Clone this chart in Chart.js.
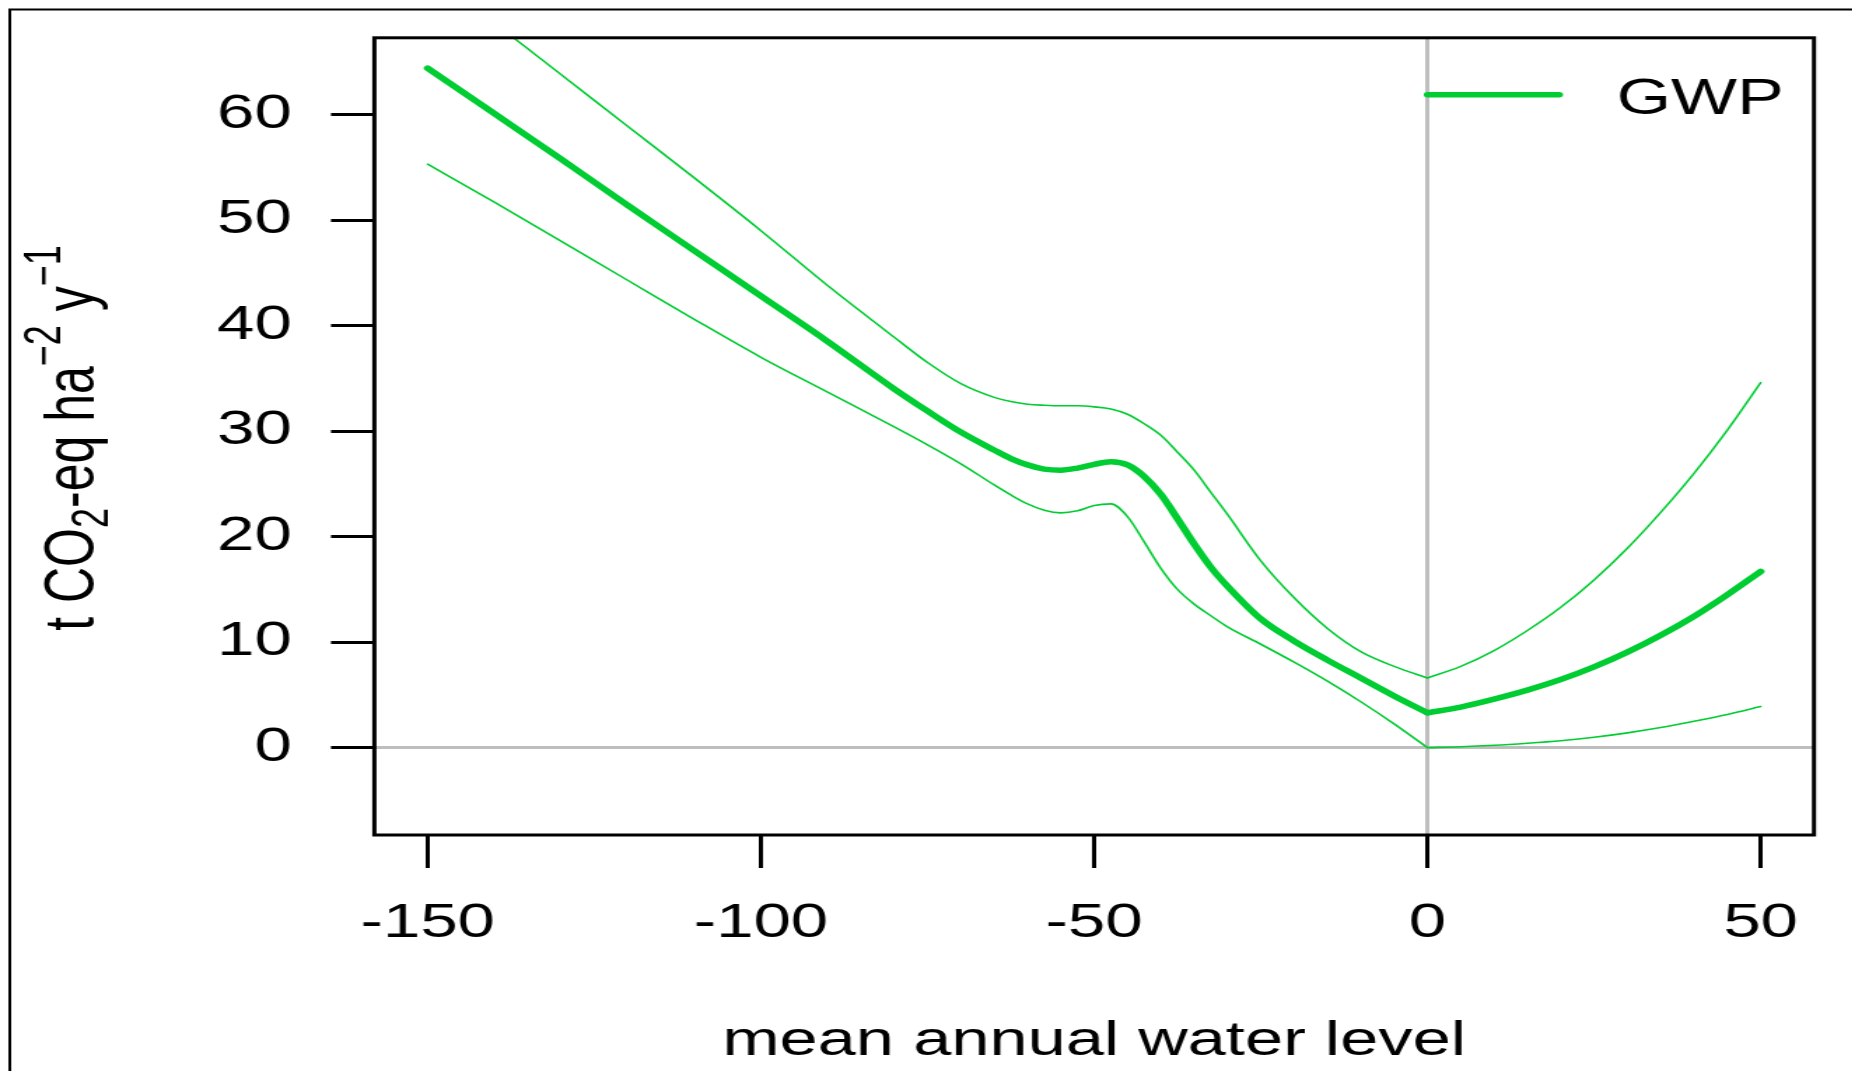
<!DOCTYPE html>
<html>
<head>
<meta charset="utf-8">
<title>GWP vs mean annual water level</title>
<script src="https://cdn.jsdelivr.net/npm/chart.js@4.4.1/dist/chart.umd.min.js"></script>
<style>
  html, body { margin: 0; padding: 0; background: #fff; overflow: hidden; }
  /* the reference figure is stretched sideways, so the chart is drawn
     narrower and scaled up in x */
  #wrap { width: 1323px; height: 1071px; transform: scaleX(1.4); transform-origin: 0 0; }
</style>
</head>
<body>
<div id="wrap"><canvas id="chart"></canvas></div>
<script>
// ── data ────────────────────────────────────────────────────────────────────
const waterLevel = [-150, -140, -130, -120, -110, -100, -90, -80, -75, -70,
  -65, -62.5, -60, -57.5, -55, -52.5, -50, -47.5, -45, -42.5,
  -40, -37.5, -35, -32.5, -30, -25, -20, -15, -10, -5,
  0, 5, 10, 15, 20, 25, 30, 35, 40, 45, 50];

const gwp = [64.4, 60.1, 55.8, 51.4, 47.1, 42.8, 38.5, 34.0, 31.9, 29.9,
  28.2, 27.4, 26.8, 26.4, 26.3, 26.5, 26.85, 27.1, 26.8, 25.7,
  24.0, 21.7, 19.3, 17.1, 15.3, 12.2, 10.1, 8.3, 6.6, 4.9,
  3.3, 3.85, 4.6, 5.45, 6.45, 7.65, 9.05, 10.65, 12.45, 14.5, 16.7];

const gwpUpper = [73.7, 68.7, 63.8, 58.9, 54.0, 49.0, 43.8, 38.9, 36.5, 34.5,
  33.2, 32.8, 32.55, 32.45, 32.4, 32.4, 32.3, 32.1, 31.6, 30.7,
  29.6, 28.0, 26.3, 24.2, 22.1, 17.7, 14.2, 11.3, 9.1, 7.7,
  6.6, 7.7, 9.2, 11.1, 13.3, 15.9, 18.9, 22.3, 26.0, 30.1, 34.6];

const gwpLower = [55.3, 51.7, 48.0, 44.3, 40.6, 37.0, 33.7, 30.4, 28.7, 26.9,
  24.9, 23.95, 23.1, 22.5, 22.25, 22.45, 22.95, 23.1, 21.9, 19.5,
  17.0, 15.0, 13.6, 12.5, 11.45, 9.8, 8.1, 6.3, 4.35, 2.25,
  0, 0.08, 0.22, 0.42, 0.66, 0.98, 1.4, 1.9, 2.5, 3.15, 3.9];

const xTicks = [-150, -100, -50, 0, 50];
const yTicks = [0, 10, 20, 30, 40, 50, 60];

const GREEN = '#00cd32';
const FONT = "'Liberation Sans', Arial, sans-serif";

// y title with sub/superscripts: [text, 0 normal | 1 sub | -1 sup]
const yTitleParts = [['t CO', 0], ['2', 1], ['-eq ha', 0], ['\u22122', -1], [' y', 0], ['\u22121', -1]];

// the fitted curve has a kink at 0, so each curve is split into two pieces
function piece(values, keep) {
  return waterLevel.map((x, i) => ({ x: x, y: values[i] })).filter(p => keep(p.x));
}

const curves = [
  { label: 'upper', values: gwpUpper, width: 1.6 },
  { label: 'lower', values: gwpLower, width: 1.6 },
  { label: 'GWP', values: gwp, width: 5.5 },
];

const datasets = [];
curves.forEach(c => {
  [x => x <= 0, x => x >= 0].forEach(keep => {
    datasets.push({
      label: c.label,
      data: piece(c.values, keep),
      borderColor: GREEN,
      borderWidth: c.width,
      borderCapStyle: 'round',
      borderJoinStyle: 'round',
      pointRadius: 0,
      cubicInterpolationMode: 'monotone',
      fill: false,
      clip: 0
    });
  });
});

// box round the plot region and the outer figure border
const framePlugin = {
  id: 'rFrame',
  afterDatasetsDraw(chart) {
    const { ctx, chartArea: a } = chart;
    ctx.save();
    ctx.strokeStyle = '#000';
    ctx.lineWidth = 3;
    ctx.strokeRect(a.left, a.top, a.right - a.left, a.bottom - a.top);
    ctx.lineWidth = 2;
    ctx.beginPath();
    ctx.moveTo(7, chart.height + 5);
    ctx.lineTo(7, 9.5);
    ctx.lineTo(chart.width + 5, 9.5);
    ctx.stroke();
    ctx.restore();
  }
};

// R style legend, top right inside the plot, no box
const legendPlugin = {
  id: 'rLegend',
  afterDatasetsDraw(chart) {
    const { ctx, chartArea: a } = chart;
    const ds = chart.data.datasets.find(d => d.label === 'GWP');
    const y = a.top + 57;
    ctx.save();
    ctx.strokeStyle = ds.borderColor;
    ctx.lineWidth = ds.borderWidth;
    ctx.lineCap = 'round';
    ctx.beginPath();
    ctx.moveTo(a.right - 276, y);
    ctx.lineTo(a.right - 182, y);
    ctx.stroke();
    ctx.fillStyle = '#000';
    ctx.font = '50px ' + FONT;
    ctx.textBaseline = 'alphabetic';
    ctx.textAlign = 'left';
    ctx.fillText(ds.label, a.right - 141, y + 19);
    ctx.restore();
  }
};

const yTitlePlugin = {
  id: 'yTitle',
  afterDraw(chart) {
    const ctx = chart.ctx;
    const big = 50, small = 36;
    ctx.save();
    ctx.fillStyle = '#000';
    ctx.textBaseline = 'alphabetic';
    ctx.textAlign = 'left';
    let total = 0;
    yTitleParts.forEach(p => {
      ctx.font = (p[1] ? small : big) + 'px ' + FONT;
      total += ctx.measureText(p[0]).width;
    });
    ctx.translate(66.6, 438);
    ctx.rotate(-Math.PI / 2);
    let x = -total / 2;
    yTitleParts.forEach(p => {
      ctx.font = (p[1] ? small : big) + 'px ' + FONT;
      const dy = p[1] === 1 ? 10 : (p[1] === -1 ? -24 : 0);
      ctx.fillText(p[0], x, dy);
      x += ctx.measureText(p[0]).width;
    });
    ctx.restore();
  }
};

const zeroGrid = c => (c.tick && c.tick.value === 0) ? '#bebebe' : 'rgba(0,0,0,0)';

new Chart(document.getElementById('chart'), {
  type: 'line',
  data: { datasets: datasets },
  options: {
    responsive: true,
    maintainAspectRatio: false,
    animation: false,
    layout: { padding: { left: 0, right: 27.3, top: 37.8, bottom: 0 } },
    plugins: {
      legend: { display: false },
      tooltip: { enabled: false }
    },
    scales: {
      x: {
        type: 'linear',
        min: -158,
        max: 58,
        afterBuildTicks: s => { s.ticks = xTicks.map(v => ({ value: v })); },
        afterFit: s => { s.height = 236; s.paddingLeft = 0; s.paddingRight = 0; },
        border: { display: false },
        grid: { drawOnChartArea: true, color: zeroGrid, lineWidth: 3, tickColor: '#000', tickWidth: 3, tickLength: 33 },
        ticks: { color: '#000', font: { family: FONT, size: 48 }, padding: 27, maxRotation: 0, autoSkip: false },
        title: { display: true, text: 'mean annual water level', color: '#000', font: { family: FONT, size: 49 }, padding: 0 }
      },
      y: {
        type: 'linear',
        min: -8.28,
        max: 67.28,
        afterBuildTicks: s => { s.ticks = yTicks.map(v => ({ value: v })); },
        afterFit: s => { s.width = 267.4; s.paddingTop = 0; s.paddingBottom = 0; },
        border: { display: false },
        grid: { drawOnChartArea: true, color: zeroGrid, lineWidth: 3, tickColor: '#000', tickWidth: 3, tickLength: 31 },
        ticks: { color: '#000', font: { family: FONT, size: 48 }, padding: 28 }
      }
    }
  },
  plugins: [framePlugin, legendPlugin, yTitlePlugin]
});
</script>
</body>
</html>
